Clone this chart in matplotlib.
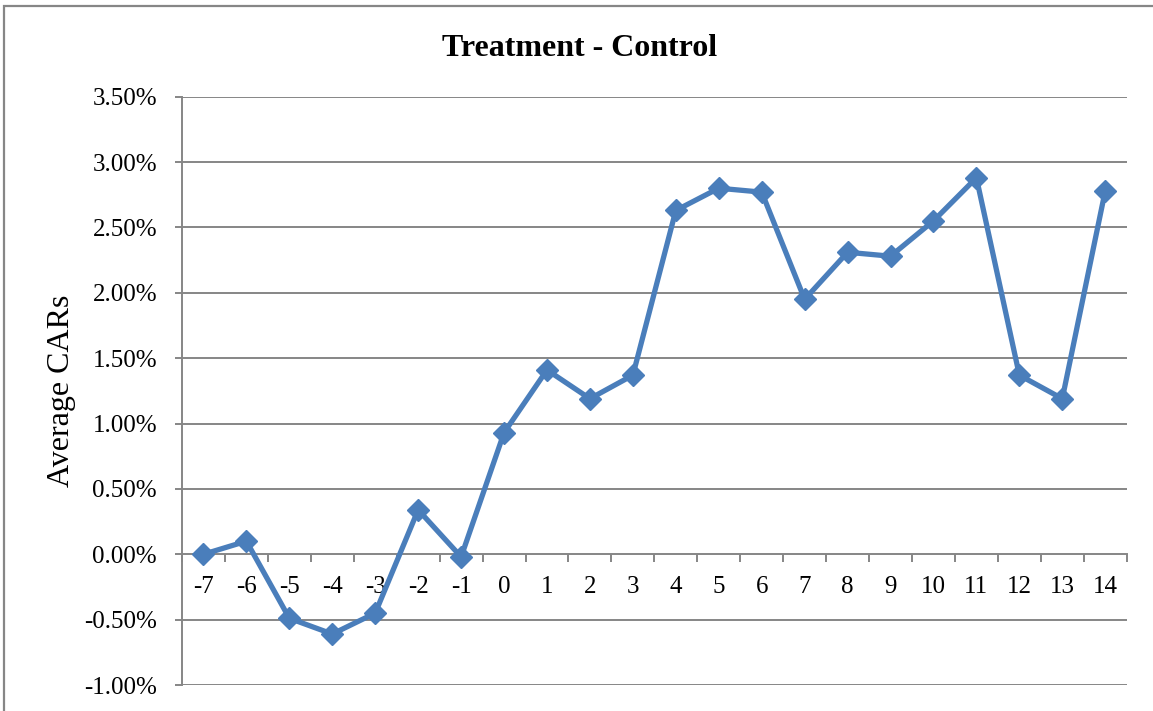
import numpy as np
import matplotlib
matplotlib.use("Agg")
import matplotlib.pyplot as plt
from matplotlib.ticker import FixedLocator, NullFormatter, FuncFormatter
from matplotlib.patches import Rectangle

# event days and average CARs (in %)
days = [-7, -6, -5, -4, -3, -2, -1, 0, 1, 2, 3, 4, 5, 6, 7, 8, 9, 10, 11, 12, 13, 14]
cars = [0.00, 0.10, -0.49, -0.61, -0.45, 0.34, -0.02, 0.93, 1.41, 1.19, 1.37, 2.63,
        2.80, 2.77, 1.95, 2.31, 2.28, 2.55, 2.88, 1.37, 1.19, 2.78]
yticks = [-1.0, -0.5, 0.0, 0.5, 1.0, 1.5, 2.0, 2.5, 3.0, 3.5]

plt.rcParams['font.family'] = ['Liberation Serif', 'DejaVu Serif']

W, H = 1153, 711
fig = plt.figure(figsize=(W / 100, H / 100), dpi=100)
ax = fig.add_axes([182 / W, 1 - 685 / H, (1126.7 - 182) / W, (685 - 96.7) / H])

grey = '#868686'
x = np.arange(len(days))

# horizontal gridlines
for t in yticks:
    if t != 0:
        ax.axhline(t, color=grey, lw=1.4, zorder=1)

ax.plot(x, cars, color='#4A7EBB', lw=3.8, marker='D', markersize=11.5,
        zorder=3, clip_on=False)

ax.set_xlim(-0.5, len(days) - 0.5)
ax.set_ylim(-1.0, 3.5)

ax.spines['top'].set_visible(False)
ax.spines['right'].set_visible(False)
ax.spines['left'].set_position(('data', -0.5))
ax.spines['bottom'].set_position(('data', 0))
for s in ('left', 'bottom'):
    ax.spines[s].set_color(grey)
    ax.spines[s].set_linewidth(1.4)

# category ticks between categories, labels on categories
ax.xaxis.set_major_locator(FixedLocator(np.arange(-0.5, len(days), 1.0)))
ax.xaxis.set_major_formatter(NullFormatter())
ax.set_xticks(x, [str(d) for d in days], minor=True)
ax.tick_params(axis='x', which='major', direction='out', length=5.5, width=1.4, color=grey)
ax.tick_params(axis='x', which='minor', length=0, pad=16, labelsize=18)

ax.set_yticks(yticks)
ax.yaxis.set_major_formatter(FuncFormatter(lambda v, p: f"{v:.2f}%"))
ax.tick_params(axis='y', direction='out', length=5, width=1.4, color=grey,
               pad=13, labelsize=18)

fig.text(580 / W, 1 - 56 / H, 'Treatment - Control', ha='center', va='baseline',
         fontsize=23, fontweight='bold')
fig.text(62 / W, 1 - 391 / H, 'Average CARs', ha='center', va='center',
         rotation=90, fontsize=23)

# outer chart border
fig.patches.append(Rectangle((4 / W, -0.1), 1.2, 1 - 6 / H + 0.1,
                             transform=fig.transFigure, fill=False,
                             edgecolor=grey, lw=1.6))

fig.savefig('out.png', dpi=100)
